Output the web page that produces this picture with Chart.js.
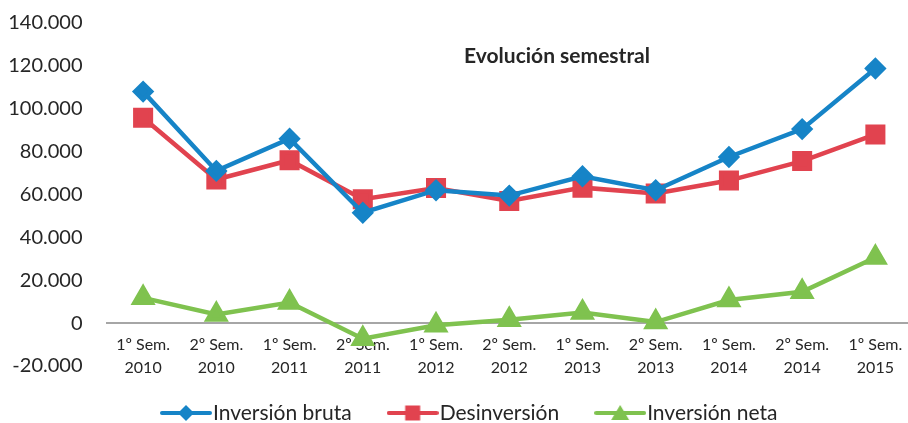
<!DOCTYPE html>
<html>
<head>
<meta charset="utf-8">
<script src="https://cdn.jsdelivr.net/npm/chart.js@4.4.1/dist/chart.umd.min.js"></script>
<style>
  html, body { margin: 0; padding: 0; background: #fff; overflow: hidden; }
  #wrap { width: 908px; height: 423px; overflow: hidden; }
</style>
</head>
<body>
<div id="wrap"><canvas id="myChart" width="912" height="423"></canvas></div>
<script>
// semesters on the x axis
const semesters = [
  ["1º Sem.", "2010"], ["2º Sem.", "2010"], ["1º Sem.", "2011"], ["2º Sem.", "2011"],
  ["1º Sem.", "2012"], ["2º Sem.", "2012"], ["1º Sem.", "2013"], ["2º Sem.", "2013"],
  ["1º Sem.", "2014"], ["2º Sem.", "2014"], ["1º Sem.", "2015"]
];

// values
const inversionBruta = [108000, 71000, 86000, 51500, 62000, 59500, 68500, 62000, 77500, 90500, 118800];
const desinversion = [95800, 67000, 76000, 57800, 63000, 57000, 63200, 60500, 66500, 75600, 88000];
const inversionNeta = [11800, 4000, 9600, -7300, -1000, 1600, 5000, 500, 10800, 14600, 30600];

const yTicks = [-20000, 0, 20000, 40000, 60000, 80000, 100000, 120000, 140000];

const BLUE = "#1684c7";
const RED = "#e1434f";
const GREEN = "#7fc24f";
const TEXT = "#262626";
const FONT = "Lato, 'Open Sans', sans-serif";

// dotted thousands, like 140.000
const fmt = (v) => {
  const neg = v < 0;
  const s = String(Math.abs(v)).replace(/\B(?=(\d{3})+(?!\d))/g, ".");
  return (neg ? "-" : "") + s;
};

// small canvas with line + marker for the legend
function legendIcon(color, shape) {
  const c = document.createElement("canvas");
  c.width = 52;
  c.height = 20;
  const ctx = c.getContext("2d");
  ctx.strokeStyle = color;
  ctx.fillStyle = color;
  ctx.lineWidth = 4;
  ctx.lineCap = "round";
  ctx.beginPath();
  ctx.moveTo(2, 10);
  ctx.lineTo(50, 10);
  ctx.stroke();
  ctx.beginPath();
  if (shape === "diamond") {
    ctx.moveTo(26, 2); ctx.lineTo(34, 10); ctx.lineTo(26, 18); ctx.lineTo(18, 10);
  } else if (shape === "square") {
    ctx.rect(18.5, 2.5, 15, 15);
  } else {
    ctx.moveTo(26, 2); ctx.lineTo(35, 17); ctx.lineTo(17, 17);
  }
  ctx.closePath();
  ctx.fill();
  return c;
}

const icons = [legendIcon(BLUE, "diamond"), legendIcon(RED, "square"), legendIcon(GREEN, "triangle")];

const titlePlugin = {
  id: "semTitle",
  beforeDraw(chart) {
    // legend sits left of centre and a bit lower in the original
    const pad = chart.options.plugins.legend.labels.padding;
    chart.legend.left = 169.5 - pad;
    chart.legend.top = 413 - pad - 10.5;
  },
  afterDraw(chart) {
    const ctx = chart.ctx;
    ctx.save();
    ctx.font = "bold 21px " + FONT;
    ctx.fillStyle = TEXT;
    ctx.textAlign = "center";
    ctx.textBaseline = "middle";
    ctx.fillText("Evolución semestral", 557, 56);
    ctx.restore();
  }
};

const ctx = document.getElementById("myChart").getContext("2d");
const chart = new Chart(ctx, {
  type: "line",
  data: {
    labels: semesters,
    datasets: [
      {
        label: "Inversión bruta",
        data: inversionBruta,
        borderColor: BLUE,
        backgroundColor: BLUE,
        borderWidth: 4.5,
        pointStyle: "rectRot",
        pointRadius: 8,
        pointHoverRadius: 8
      },
      {
        label: "Desinversión",
        data: desinversion,
        borderColor: RED,
        backgroundColor: RED,
        borderWidth: 4.5,
        pointStyle: "rect",
        pointRadius: 11,
        pointHoverRadius: 11
      },
      {
        label: "Inversión neta",
        data: inversionNeta,
        borderColor: GREEN,
        backgroundColor: GREEN,
        borderWidth: 4.5,
        pointStyle: "triangle",
        pointRadius: 10,
        pointHoverRadius: 10
      }
    ]
  },
  options: {
    responsive: false,
    animation: false,
    layout: { autoPadding: false, padding: { top: 23, right: 0, left: 0, bottom: -18.5 } },
    scales: {
      x: {
        position: { y: 0 },
        offset: true,
        afterFit: (scale) => {
          scale.paddingLeft = 0;
          scale.paddingRight = 0;
        },
        grid: { display: false, drawTicks: false },
        border: { display: true, color: "#a6a6a6", width: 2 },
        ticks: {
          color: TEXT,
          font: { family: FONT, size: 16, lineHeight: 1.45 },
          padding: 10,
          maxRotation: 0,
          autoSkip: false
        }
      },
      y: {
        min: -20000,
        max: 140000,
        afterBuildTicks: (scale) => {
          scale.ticks = yTicks.map((v) => ({ value: v }));
        },
        afterFit: (scale) => {
          scale.width = 106.5;
          scale.paddingTop = 0;
          scale.paddingBottom = 0;
        },
        grid: { display: false },
        border: { display: false },
        ticks: {
          color: TEXT,
          font: { family: FONT, size: 20 },
          padding: 16,
          callback: (v) => fmt(v)
        }
      }
    },
    plugins: {
      tooltip: { enabled: false },
      legend: {
        position: "bottom",
        align: "start",
        labels: {
          color: TEXT,
          font: { family: FONT, size: 21 },
          usePointStyle: true,
          pointStyleWidth: 33,
          padding: 44.5,
          generateLabels: (chart) =>
            chart.data.datasets.map((ds, i) => ({
              text: ds.label,
              pointStyle: icons[i],
              fillStyle: ds.borderColor,
              strokeStyle: ds.borderColor,
              lineWidth: 0,
              fontColor: TEXT,
              hidden: false,
              datasetIndex: i
            }))
        }
      }
    }
  },
  plugins: [titlePlugin]
});
</script>
</body>
</html>
